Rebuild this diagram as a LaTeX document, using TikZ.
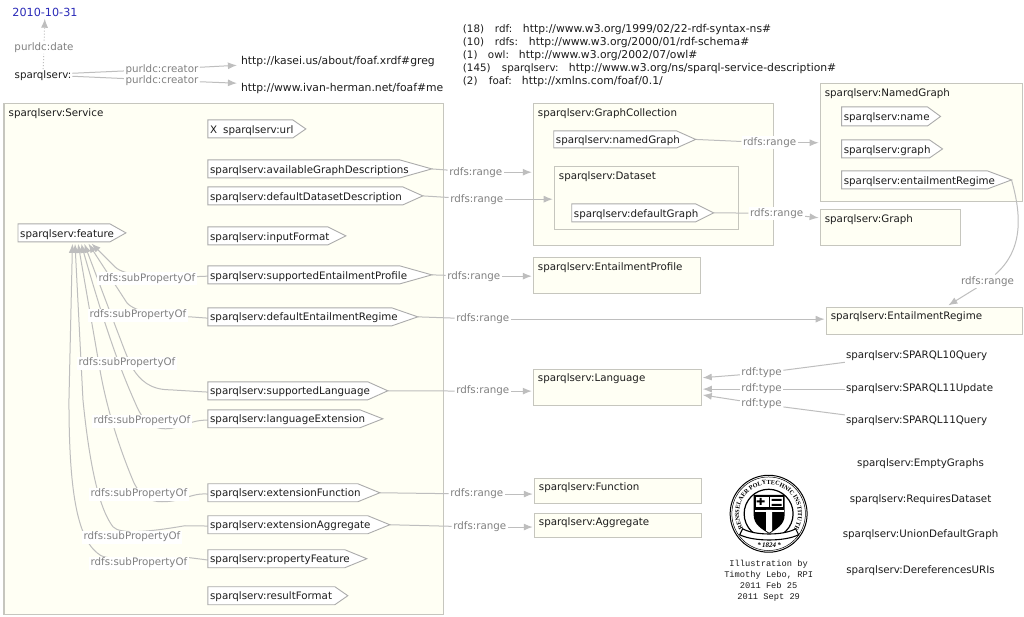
\documentclass[tikz,border=0pt]{standalone}
\usepackage{fontspec}
\usetikzlibrary{arrows.meta,decorations.text,calc}
\setmainfont{DejaVu Sans}
\newfontfamily\monof{Liberation Mono}
\newfontfamily\seriff{Liberation Serif}
\definecolor{boxfill}{HTML}{FFFFF4}
\definecolor{boxline}{HTML}{C6C6BE}
\definecolor{propline}{HTML}{ABABAB}
\definecolor{edgec}{HTML}{BEBEBE}
\definecolor{labc}{HTML}{808080}
\definecolor{txt}{HTML}{1C1C1C}
\definecolor{datec}{HTML}{2A2AB8}
\newcommand\fs{\fontsize{10.3}{12}\selectfont}
\newcommand\ur{\fontsize{10.8}{12}\selectfont}
\newcommand\nsline[3]{\makebox[#1pt][l]{#2}#3}
\pgfdeclarelayer{bx}\pgfdeclarelayer{ed}\pgfsetlayers{bx,ed,main}
\tikzset{
  x=1pt,y=-1pt,
  boxn/.style={draw=boxline,fill=boxfill,line width=1.1pt,inner sep=0pt,anchor=north west},
  boxt/.style={inner sep=0pt,anchor=west,text=txt,font=\fs,yshift=-1.3pt},
  proptxt/.style={inner sep=2pt,anchor=west,text=txt,font=\fs,yshift=-1.3pt},
  propshape/.style={draw=propline,fill=white,line width=0.9pt},
  plain/.style={inner sep=1pt,text=txt,font=\fs,yshift=-1.3pt},
  lab/.style={inner sep=1.5pt,fill=white,text=labc,font=\fs,yshift=-1.3pt},
  labn/.style={inner sep=1.5pt,text=labc,font=\fs,yshift=-1.3pt},
  ln/.style={draw=edgec,line width=1pt},
  ar/.style={ln,-{Latex[length=9pt,width=7pt]},shorten >=1pt},
}
\newcommand\cbox[6]{%
  \begin{pgfonlayer}{bx}
  \node[boxn,minimum width=#4pt-#2pt,minimum height=#5pt-#3pt] (#1) at (#2,#3) {};
  \node[boxt] (#1t) at ($(#2,#3)+(5,9)$) {#6};
  \end{pgfonlayer}}
\newcommand\prop[7]{%
  \path[propshape] (#2,#3) -- (#5,#3) -- (#6,{(#3+#4)/2}) -- (#5,#4) -- (#2,#4) -- cycle;
  \node[proptxt] (#1) at (#2,{(#3+#4)/2}) {#7};
  \coordinate (#1tip) at (#6,{(#3+#4)/2});}
\begin{document}
\begin{tikzpicture}
\begin{pgfonlayer}{bx}
\path[use as bounding box,fill=white] (0,0) rectangle (1024,617);
\end{pgfonlayer}
% boxes
\cbox{SV}{3.5}{103}{443}{614}{sparqlserv:Service}
\cbox{GC}{533}{103}{773}{245}{sparqlserv:GraphCollection}
\cbox{DS}{554}{166}{738}{229}{sparqlserv:Dataset}
\cbox{NG}{820}{83}{1022}{201}{sparqlserv:NamedGraph}
\cbox{GR}{820}{209}{960}{245}{sparqlserv:Graph}
\cbox{EP}{533}{257}{700}{293}{sparqlserv:EntailmentProfile}
\cbox{ER}{826}{307}{1022}{334}{sparqlserv:EntailmentRegime}
\cbox{LA}{533}{369}{701}{405}{sparqlserv:Language}
\cbox{FN}{534}{478}{701}{503}{sparqlserv:Function}
\cbox{AG}{534}{513}{701}{537}{sparqlserv:Aggregate}
% properties
\prop{url}{208}{120}{138}{293}{306}{X\hspace{6pt}sparqlserv:url}
\prop{avail}{208}{160}{178}{400}{432}{sparqlserv:availableGraphDescriptions}
\prop{ddd}{208}{187}{205}{403}{423}{sparqlserv:defaultDatasetDescription}
\prop{feat}{18}{224}{242}{110}{126}{sparqlserv:feature}
\prop{inf}{208}{227}{245}{328}{346}{sparqlserv:inputFormat}
\prop{sep}{208}{266}{284}{400}{432}{sparqlserv:supportedEntailmentProfile}
\prop{der}{208}{308}{326}{392}{418}{sparqlserv:defaultEntailmentRegime}
\prop{sl}{208}{382}{400}{368}{388}{sparqlserv:supportedLanguage}
\prop{le}{208}{410}{428}{360}{383}{sparqlserv:languageExtension}
\prop{ef}{208}{484}{502}{358}{380}{sparqlserv:extensionFunction}
\prop{ea}{208}{516}{534}{368}{390}{sparqlserv:extensionAggregate}
\prop{pf}{208}{550}{568}{345}{367}{sparqlserv:propertyFeature}
\prop{rf}{208}{587}{605}{335}{348}{sparqlserv:resultFormat}
\prop{ngr}{554}{131}{148}{677}{696}{sparqlserv:namedGraph}
\prop{dg}{572}{204}{222}{696}{714}{sparqlserv:defaultGraph}
\prop{nm}{842}{107}{126}{928}{941}{sparqlserv:name}
\prop{gp}{842}{140}{158}{930}{943}{sparqlserv:graph}
\prop{erg}{842}{171}{189}{988}{1012}{sparqlserv:entailmentRegime}
% free text
\node[plain,text=datec,font=\fontsize{11.2}{12}\selectfont] (date) at (45,11) {2010-10-31};
\node[plain] (sq) at (43,74) {sparqlserv:};
\node[plain,anchor=west,font=\ur] (greg) at (240,60) {http://kasei.us/about/foaf.xrdf\#greg};
\node[plain,anchor=west,font=\ur] (ivan) at (240,87) {http://www.ivan-herman.net/foaf\#me};
\node[plain,anchor=west,inner sep=0pt] (n1) at (463,28) {\nsline{32}{(18)}{\nsline{28}{rdf:}{\ur http://www.w3.org/1999/02/22-rdf-syntax-ns\#}}};
\node[plain,anchor=west,inner sep=0pt] (n2) at (463,41) {\nsline{32}{(10)}{\nsline{34}{rdfs:}{\ur http://www.w3.org/2000/01/rdf-schema\#}}};
\node[plain,anchor=west,inner sep=0pt] (n3) at (463,54) {\nsline{25}{(1)}{\nsline{31}{owl:}{\ur http://www.w3.org/2002/07/owl\#}}};
\node[plain,anchor=west,inner sep=0pt] (n4) at (463,67) {\nsline{39}{(145)}{\nsline{67}{sparqlserv:}{\ur http://www.w3.org/ns/sparql-service-description\#}}};
\node[plain,anchor=west,inner sep=0pt] (n5) at (463,80) {\nsline{26}{(2)}{\nsline{33}{foaf:}{\ur http://xmlns.com/foaf/0.1/}}};
\node[plain] (q10) at (917,355) {sparqlserv:SPARQL10Query};
\node[plain] (u11) at (920,388) {sparqlserv:SPARQL11Update};
\node[plain] (q11) at (917,420) {sparqlserv:SPARQL11Query};
\node[plain] (eg) at (921,463) {sparqlserv:EmptyGraphs};
\node[plain] (rd) at (921,499) {sparqlserv:RequiresDataset};
\node[plain] (ug) at (921,534) {sparqlserv:UnionDefaultGraph};
\node[plain] (du) at (921,570) {sparqlserv:DereferencesURIs};
% labels
\node[labn] (ldate) at (44,46) {purldc:date};
\node[labn] (lc1) at (162,68) {purldc:creator};
\node[labn] (lc2) at (162,79) {purldc:creator};
\node[lab] (r1) at (476,171) {rdfs:range};
\node[lab] (r2) at (477,198) {rdfs:range};
\node[lab] (r3) at (770,141.5) {rdfs:range};
\node[lab] (r4) at (777,212) {rdfs:range};
\node[lab] (r5) at (474,275) {rdfs:range};
\node[lab] (r6) at (483,318) {rdfs:range};
\node[lab] (r7) at (483,390) {rdfs:range};
\node[lab] (r8) at (477,493) {rdfs:range};
\node[lab] (r9) at (480,526) {rdfs:range};
\node[lab] (r10) at (988,280) {rdfs:range};
\node[labn] (t1) at (762,372) {rdf:type};
\node[labn] (t2) at (762,388) {rdf:type};
\node[labn] (t3) at (762,403) {rdf:type};
\node[lab] (s1) at (147,277) {rdfs:subPropertyOf};
\node[lab] (s2) at (138,314) {rdfs:subPropertyOf};
\node[lab] (s3) at (127,362) {rdfs:subPropertyOf};
\node[lab] (s4) at (142,420) {rdfs:subPropertyOf};
\node[lab] (s5) at (139,493) {rdfs:subPropertyOf};
\node[lab] (s6) at (132,536) {rdfs:subPropertyOf};
\node[lab] (s7) at (139,562) {rdfs:subPropertyOf};
% connector ends on sparqlserv:feature
\coordinate (fa) at (72.5,243);
\coordinate (fb) at (75,243);
\coordinate (fc) at (78,243);
\coordinate (fd) at (81,243);
\coordinate (fe) at (84,243);
\coordinate (ff) at (88,243);
\coordinate (fg) at (91,243);
% logo
\coordinate (lg) at (769,514);
\draw[line width=1pt,fill=white] (lg) circle (38.5);
\draw[line width=0.5pt] (lg) circle (36.8);
\path[decorate,decoration={text along path,text align=center,
  text={|\seriff\bfseries\fontsize{6.2}{8}\selectfont|RENSSELAER POLYTECHNIC INSTITUTE}}]
  ($(lg)+(-208:29.5)$) arc (-208:28:29.5);
\draw[line width=1.2pt] (lg) circle (24.5);
\path[fill=black] (754,495) -- (785,495) -- (785,515) .. controls (785,525) and (777,529) .. (769.5,534) .. controls (762,529) and (754,525) .. (754,515) -- cycle;
\path[fill=white] (756,497) rectangle (783,508);
\path[fill=black] (756,507) rectangle (783,509);
\path[fill=black] (769,497) rectangle (770,508);
\path[fill=black] (760,498) rectangle (762,505) (757,500.5) rectangle (765,502.5);
\path[fill=black] (772,499) rectangle (782,501) (772,504) rectangle (782,506);
\path[fill=white] (766.5,510) -- (772.5,510) -- (772.5,531) -- (769.5,533) -- (766.5,531) -- cycle;
\path[fill=white] (755,510) rectangle (784,512);
\draw[line width=1.1pt,fill=white] (743,529) .. controls (755,536) and (784,536) .. (796,529) -- (799,535) .. controls (785,542) and (754,542) .. (740,535) -- cycle;
\node[inner sep=0pt,font=\seriff\bfseries\itshape\fontsize{7}{8}\selectfont] (yr) at (769.5,545.5) {*\,1824\,*};
\node[inner sep=0pt,align=center,font=\monof\fontsize{8.7}{11}\selectfont,text=txt] (credit) at (769,581.5) {Illustration by\\Timothy Lebo, RPI\\2011 Feb 25\\2011 Sept 29};
% connectors
\begin{pgfonlayer}{ed}
\draw[ln,dotted] (sq) -- (ldate);
\draw[ar,dotted] (ldate) -- (date);
\draw[ln] (sq.east) ++(0,-2) -- (lc1);
\draw[ar] (lc1) -- ($(greg.west)+(-2,4)$);
\draw[ln] (sq.east) ++(0,1) -- (lc2);
\draw[ar] (lc2) -- ($(ivan.west)+(-2,-5)$);
\draw[ln] (availtip) -- (r1); \draw[ar] (r1) -- (r1 -| GC.west);
\draw[ln] (dddtip) -- (r2); \draw[ar] (r2) -- (r2 -| DS.west);
\draw[ln] (ngrtip) -- (r3); \draw[ar] (r3) -- (r3 -| NG.west);
\draw[ln] (dgtip) -- (r4); \draw[ar] (r4) -- (GR.west |- 0,218);
\draw[ln] (septip) -- (r5); \draw[ar] (r5) -- (r5 -| EP.west);
\draw[ln] (dertip) -- (r6); \draw[ar] (r6) -- (r6 -| ER.west);
\draw[ln] (sltip) -- (r7); \draw[ar] (r7) -- (r7 -| LA.west);
\draw[ln] (eftip) -- (r8); \draw[ar] (r8) -- (r8 -| FN.west);
\draw[ln] (eatip) -- (r9); \draw[ar] (r9) -- (r9 -| AG.west);
\draw[ln] (ergtip) .. controls (1022,215) and (1024,250) .. (r10);
\draw[ar] (r10) -- (948,306);
\draw[ln] (q10.south west) -- (t1); \draw[ar] (t1) -- (LA.east |- 0,378);
\draw[ln] (u11) -- (t2); \draw[ar] (t2) -- (t2 -| LA.east);
\draw[ln] (q11.north west) -- (t3); \draw[ar] (t3) -- (LA.east |- 0,395);
% rdfs:subPropertyOf
\draw[ar] (sep.west) -- (190,277) .. controls (160,277) and (125,277) .. (115,267) -- (fg);
\draw[ar] (der.west) -- (190,317) .. controls (160,317) and (135,312) .. (127,303) -- (ff);
\draw[ar] (sl.west) -- (170,390) .. controls (150,390) and (140,380) .. (133,369) .. controls (127,358) and (122,343) .. (118,333) -- (fe);
\draw[ar] (le.west) .. controls (190,420) and (180,429) .. (166,429) .. controls (150,429) and (143,420) .. (137,407) .. controls (125,380) and (110,345) .. (fd);
\draw[ar] (ef.west) .. controls (190,493) and (184,502) .. (162,502) .. controls (150,502) and (141,497) .. (134,483) .. controls (120,450) and (107,410) .. (100,370) -- (fc);
\draw[ar] (ea.west) -- (185,526) .. controls (150,532) and (120,535) .. (113,527) .. controls (100,510) and (90,470) .. (83,400) -- (fb);
\draw[ar] (pf.west) -- (190,558) .. controls (130,558) and (105,562) .. (97,553) .. controls (75,535) and (69,480) .. (69,400) -- (fa);
\end{pgfonlayer}
\end{tikzpicture}
\end{document}
